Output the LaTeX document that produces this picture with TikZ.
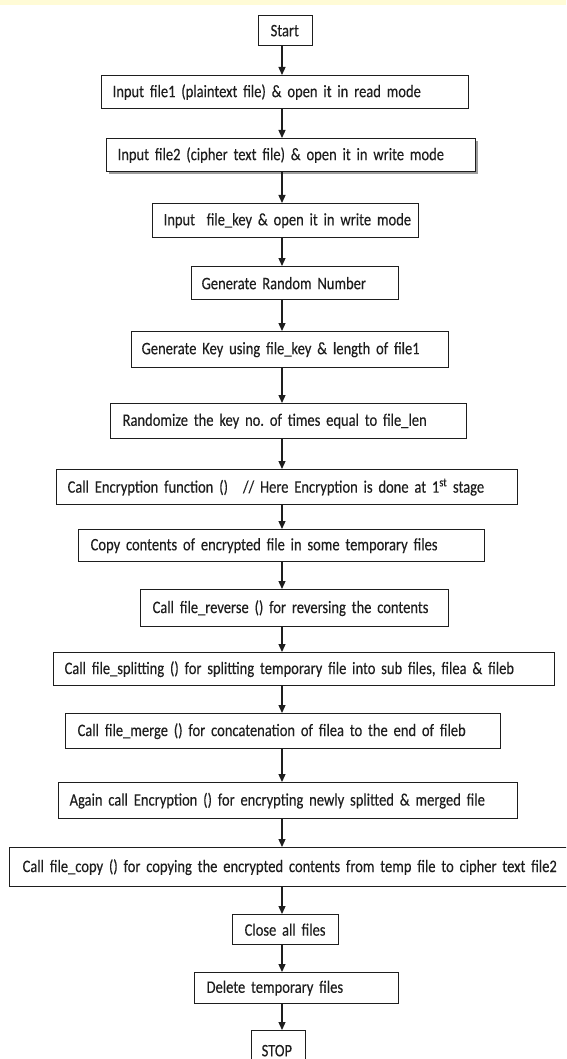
\documentclass[tikz,border=0pt]{standalone}
\usepackage{fontspec}
\setmainfont{Carlito}[FakeStretch=0.83, WordSpace=0.75, FakeBold=0.2]
\usetikzlibrary{arrows.meta,shadows}
\definecolor{band}{RGB}{255,251,214}
\definecolor{ink}{RGB}{30,30,30}
\newcommand{\boxfont}{\fontsize{17.5}{20}\selectfont\frenchspacing}
\tikzset{
  stepbox/.style={draw=ink, line width=1.3pt, fill=white, anchor=north west,
    inner ysep=0pt, align=left, text=ink, font=\boxfont},
  flow/.style={draw=ink, line width=1.3pt, -{Triangle[length=8pt,width=7pt]}},
  shadowed/.style={drop shadow={shadow xshift=2pt, shadow yshift=-2.5pt, opacity=0.55, fill=black!70}},
}
\newcommand{\flowbox}[8][]{%
  \pgfmathsetmacro\fbtw{#4-#3-2*#7}%
  \pgfmathsetmacro\fbh{#6-#5}%
  \node[stepbox, #1, text width=\fbtw pt, inner xsep=#7pt, minimum height=\fbh pt] (#2) at (#3,#5) {\mbox{#8}};}
\begin{document}
\begin{tikzpicture}[x=1pt, y=-1pt]
\useasboundingbox (0,0) rectangle (566,1059);
\clip (0,0) rectangle (566,1059);
\fill[band] (0,0) rectangle (566,5);
\coordinate (axis) at (282,0);
\flowbox{start}{258}{312}{15}{45}{12}{Start}
\flowbox{b1}{101}{468}{75}{108}{11}{Input file1 (plaintext file) \& open it in read mode}
\flowbox[shadowed]{b2}{106}{475}{138}{171}{11}{Input file2 (cipher text file) \& open it in write mode}
\flowbox{b3}{152}{418}{203}{237}{11}{Input\ \ file\_key \& open it in write mode}
\flowbox{b4}{191}{398}{266}{299}{10}{Generate Random Number}
\flowbox{b5}{131}{448}{331}{367}{10}{Generate Key using file\_key \& length of file1}
\flowbox{b6}{110}{466}{403}{438}{12}{Randomize the key no. of times equal to file\_len}
\flowbox{b7}{56}{517}{469}{504}{11}{Call Encryption function ()\hspace{15pt}// Here Encryption is done at 1\textsuperscript{st} stage}
\flowbox{b8}{78}{484}{529}{561}{12}{Copy contents of encrypted file in some temporary files}
\flowbox{b9}{140}{448}{589}{626}{12}{Call file\_reverse () for reversing the contents}
\flowbox{b10}{53}{554}{652}{685}{11}{Call file\_splitting () for splitting temporary file into sub files, filea \& fileb}
\flowbox{b11}{65}{500}{713}{748}{12}{Call file\_merge () for concatenation of filea to the end of fileb}
\flowbox{b12}{58}{517}{782}{818}{11}{Again call Encryption () for encrypting newly splitted \& merged file}
\flowbox{b13}{9}{580}{847}{886}{13}{Call file\_copy () for copying the encrypted contents from temp file to cipher text file2}
\flowbox{b14}{232}{338}{914}{944}{12}{Close all files}
\flowbox{b15}{194}{398}{972}{1003}{12}{Delete temporary files}
\flowbox{stop}{251}{305}{1030}{1070}{10}{STOP}
\foreach \a/\b in {start/b1,b1/b2,b2/b3,b3/b4,b4/b5,b5/b6,b6/b7,b7/b8,b8/b9,b9/b10,b10/b11,b11/b12,b12/b13,b13/b14,b14/b15,b15/stop}
  \draw[flow] (\a.south -| axis) -- (\b.north -| axis);
\end{tikzpicture}
\end{document}
